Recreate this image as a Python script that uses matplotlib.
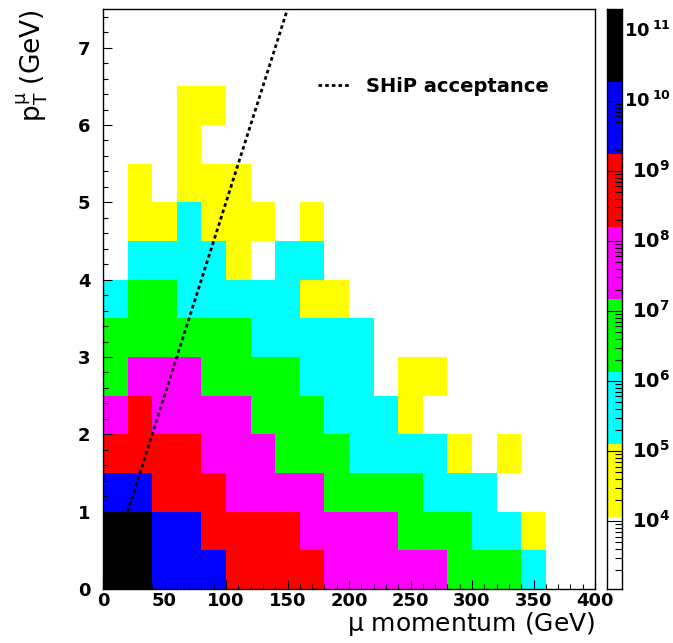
import matplotlib
matplotlib.use('Agg')
import matplotlib.pyplot as plt
import matplotlib.transforms as mtransforms
import numpy as np
from matplotlib.colors import ListedColormap, BoundaryNorm
from matplotlib.ticker import MultipleLocator, LogLocator, NullFormatter

plt.rcParams['font.family'] = ['DejaVu Sans']
plt.rcParams['mathtext.default'] = 'regular'

# bin edges
p_edges = np.arange(0, 401, 20)      # muon momentum (GeV)
pt_edges = np.arange(0, 7.51, 0.5)   # muon pT (GeV)

# log10(entries) in each bin, one row per pT bin starting from pT=0 ; 0 = empty bin
logn = [
    [10.7, 10.7, 9.7, 9.7, 9.7, 8.7, 8.7, 8.7, 8.7, 7.7, 7.7, 7.7, 7.7, 7.7, 6.6, 6.6, 6.6, 5.6, 0, 0],
    [10.7, 10.7, 9.7, 9.7, 8.7, 8.7, 8.7, 8.7, 7.7, 7.7, 7.7, 7.7, 6.6, 6.6, 6.6, 5.6, 5.6, 4.6, 0, 0],
    [9.7, 9.7, 8.7, 8.7, 8.7, 7.7, 7.7, 7.7, 7.7, 6.6, 6.6, 6.6, 6.6, 5.6, 5.6, 5.6, 0, 0, 0, 0],
    [8.7, 8.7, 8.7, 8.7, 7.7, 7.7, 7.7, 6.6, 6.6, 6.6, 5.6, 5.6, 5.6, 5.6, 4.6, 0, 4.6, 0, 0, 0],
    [7.7, 8.7, 7.7, 7.7, 7.7, 7.7, 6.6, 6.6, 6.6, 5.6, 5.6, 5.6, 4.6, 0, 0, 0, 0, 0, 0, 0],
    [6.6, 7.7, 7.7, 7.7, 6.6, 6.6, 6.6, 6.6, 5.6, 5.6, 5.6, 0, 4.6, 4.6, 0, 0, 0, 0, 0, 0],
    [6.6, 6.6, 6.6, 6.6, 6.6, 6.6, 5.6, 5.6, 5.6, 5.6, 5.6, 0, 0, 0, 0, 0, 0, 0, 0, 0],
    [5.6, 6.6, 6.6, 5.6, 5.6, 5.6, 5.6, 5.6, 4.6, 4.6, 0, 0, 0, 0, 0, 0, 0, 0, 0, 0],
    [0, 5.6, 5.6, 5.6, 5.6, 4.6, 0, 5.6, 5.6, 0, 0, 0, 0, 0, 0, 0, 0, 0, 0, 0],
    [0, 4.6, 4.6, 5.6, 4.6, 4.6, 4.6, 0, 4.6, 0, 0, 0, 0, 0, 0, 0, 0, 0, 0, 0],
    [0, 4.6, 0, 4.6, 4.6, 4.6, 0, 0, 0, 0, 0, 0, 0, 0, 0, 0, 0, 0, 0, 0],
    [0, 0, 0, 4.6, 0, 0, 0, 0, 0, 0, 0, 0, 0, 0, 0, 0, 0, 0, 0, 0],
    [0, 0, 0, 4.6, 4.6, 0, 0, 0, 0, 0, 0, 0, 0, 0, 0, 0, 0, 0, 0, 0],
    [0] * 20,
    [0] * 20,
]

# contour levels (log10), 8 equal steps between min and max of the z axis
z_min, z_max = 3.03, 11.31
level_colors = ['white', '#ffff00', '#00ffff', '#00ff00', '#ff00ff', '#ff0000', '#0000ff', 'black']

# SHiP acceptance line
ship_p = [20, 150]
ship_pt = [1.0, 7.5]

levels = 10 ** np.linspace(z_min, z_max, len(level_colors) + 1)
cmap = ListedColormap(level_colors)
norm = BoundaryNorm(levels, cmap.N)

counts = np.ma.masked_equal(10 ** np.array(logn, dtype=float), 1.0)

fig = plt.figure(figsize=(6.73, 6.43), dpi=100)
ax = fig.add_axes([103 / 673, 1 - 589 / 643, 492 / 673, 580 / 643])
ax.pcolormesh(p_edges, pt_edges, counts, cmap=cmap, norm=norm)
ax.plot(ship_p, ship_pt, color='black', lw=2.0, ls=(0, (1.3, 1.1)), label='SHiP acceptance')

ax.set_xlim(0, 400)
ax.set_ylim(0, 7.5)
ax.xaxis.set_major_locator(MultipleLocator(50))
ax.xaxis.set_minor_locator(MultipleLocator(10))
ax.yaxis.set_major_locator(MultipleLocator(1))
ax.yaxis.set_minor_locator(MultipleLocator(0.2))
ax.tick_params(which='both', direction='in', width=0.8, labelsize=13)
ax.tick_params(which='major', length=6.5)
ax.tick_params(which='minor', length=3.6)
ax.tick_params(axis='x', pad=2)
ax.tick_params(axis='y', pad=9)
for lab in ax.get_xticklabels() + ax.get_yticklabels():
    lab.set_fontweight('bold')
for s in ax.spines.values():
    s.set_linewidth(1.0)

ax.set_xlabel(r'$\mu$ momentum (GeV)', loc='right', fontsize=18, labelpad=0)
ax.set_ylabel(r'$p_{T}^{\mu}$ (GeV)', loc='top', fontsize=19, labelpad=20)

leg = ax.legend(loc='center left', bbox_to_anchor=(0.437, 0.866), frameon=False,
                fontsize=14, handlelength=1.7, handletextpad=0.75, borderpad=0, borderaxespad=0)
for t in leg.get_texts():
    t.set_fontweight('bold')

# colour scale
cax = fig.add_axes([607 / 673, 1 - 589 / 643, 15 / 673, 580 / 643])
mid = np.sqrt(levels[:-1] * levels[1:])
cax.pcolormesh([0, 1], levels, mid[:, None], cmap=cmap, norm=norm)
cax.set_yscale('log')
cax.set_ylim(levels[0], levels[-1])
cax.set_xlim(0, 1)
cax.set_xticks([])
cax.yaxis.tick_right()
cax.yaxis.set_major_locator(LogLocator(base=10, numticks=20))
cax.yaxis.set_minor_locator(LogLocator(base=10, subs=np.arange(2, 10), numticks=20))
cax.yaxis.set_major_formatter(NullFormatter())
cax.yaxis.set_minor_formatter(NullFormatter())
cax.tick_params(which='both', direction='in', width=0.8)
cax.tick_params(which='major', length=10.8)
cax.tick_params(which='minor', length=5)
for s in cax.spines.values():
    s.set_linewidth(1.0)

trans = mtransforms.blended_transform_factory(cax.transAxes, cax.transData)
for k in range(4, 12):
    if k < 10:
        cax.text(1.65, 10.0 ** k, r'$10^{%d}$' % k, transform=trans, ha='left', va='center',
                 fontsize=14, fontweight='bold')
    else:
        cax.text(1.15, 10.0 ** k, r'$10\,{}^{%d}$' % k, transform=trans, ha='left', va='center',
                 fontsize=13, fontweight='bold')

fig.savefig('out.png', dpi=100)
